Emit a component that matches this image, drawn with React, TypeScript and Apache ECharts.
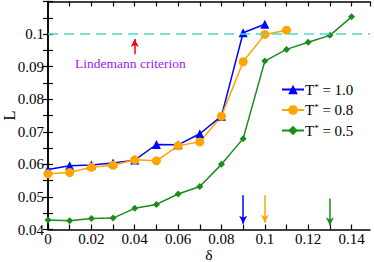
import React, { useEffect, useRef } from "react";
import * as echarts from "echarts";

const deltas = [0, 0.01, 0.02, 0.03, 0.04, 0.05, 0.06, 0.07, 0.08, 0.09, 0.1, 0.11, 0.12, 0.13, 0.14];
const seriesNames = ["T* = 1.0", "T* = 0.8", "T* = 0.5"];
const legendLabels = ["1.0", "0.8", "0.5"];
const valuesT10 = [0.0584, 0.0596, 0.0598, 0.0604, 0.0613, 0.0661, 0.066, 0.0694, 0.0748, 0.1004, 0.103];
const valuesT08 = [0.0571, 0.0575, 0.0591, 0.0597, 0.0614, 0.0611, 0.0657, 0.0669, 0.0748, 0.0915, 0.0999, 0.1012];
const valuesT05 = [0.0429, 0.0427, 0.0434, 0.0435, 0.0465, 0.0477, 0.0509, 0.0532, 0.06, 0.0679, 0.0917, 0.0953, 0.0975, 0.0996, 0.1053];
const colors = ["#0000ff", "#ffa500", "#1a8c1a"];
const criterionValue = 0.1;
const meltingDeltas = [0.09, 0.1, 0.13];
const xTickLabels = ["0", "0.02", "0.04", "0.06", "0.08", "0.1", "0.12", "0.14"];
const yTickLabels = ["0.04", "0.05", "0.06", "0.07", "0.08", "0.09", "0.1"];

const SERIF = "Times New Roman, Liberation Serif, DejaVu Serif, serif";

export default function App() {
  const ref = useRef<HTMLDivElement>(null);
  useEffect(() => {
    if (!ref.current) return;
    const chart = echarts.init(ref.current, undefined, { renderer: "svg" });
    const pair = (vals: number[]) => vals.map((v, i) => [deltas[i], v]);
    const xFmt = (v: number) => {
      const k = Math.round(v * 100);
      if (Math.abs(v * 100 - k) > 1e-6 || k % 2 !== 0) return "";
      return xTickLabels[k / 2] ?? "";
    };
    const yFmt = (v: number) => {
      const k = Math.round(v * 100);
      if (Math.abs(v * 100 - k) > 1e-6) return "";
      return yTickLabels[k - 4] ?? "";
    };
    const axisLine = { show: true, lineStyle: { color: "#000", width: 1.5 } };
    const tick = { show: true, inside: true, length: 5, lineStyle: { color: "#000", width: 1.2 } };
    const arrow = (x: number, y0: number, y1: number, color: string) => [
      { coord: [x, y0], lineStyle: { color, width: 1.5, type: "solid" } },
      { coord: [x, y1] },
    ];
    const markers = ["triangle", "circle", "diamond"];
    const sizes = [9, 9, 7];
    const valueSets = [valuesT10, valuesT08, valuesT05];
    const arrowTops = [0.0505, 0.0505, 0.0495];
    const arrowTips = [0.0418, 0.0421, 0.0412];
    const series: any[] = valueSets.map((vals, i) => ({
      type: "line",
      name: seriesNames[i],
      data: pair(vals),
      symbol: markers[i],
      symbolSize: sizes[i],
      showSymbol: true,
      lineStyle: { color: colors[i], width: 1.5 },
      itemStyle: { color: colors[i] },
      markLine: {
        silent: true,
        symbol: ["none", "arrow"],
        symbolSize: [6, 8],
        label: { show: false },
        data: [arrow(meltingDeltas[i], arrowTops[i], arrowTips[i], colors[i])],
      },
    }));
    series.push({
      type: "line",
      name: "criterion",
      data: [],
      markLine: {
        silent: true,
        symbol: "none",
        label: { show: false },
        lineStyle: { color: "#40e0d0", width: 1.5, type: [10, 6] },
        data: [{ yAxis: criterionValue }],
      },
    });
    series.push({
      type: "line",
      name: "arrowRed",
      data: [],
      markLine: {
        silent: true,
        symbol: ["none", "arrow"],
        symbolSize: [6, 8],
        label: { show: false },
        data: [arrow(0.04, 0.0938, 0.0985, "#ff0000")],
      },
      markPoint: {
        silent: true,
        symbol: "circle",
        symbolSize: 0,
        data: [
          {
            coord: [0.038, 0.0911],
            label: {
              show: true,
              formatter: "Lindemann criterion",
              color: "#a020f0",
              fontFamily: SERIF,
              fontSize: 13.5,
              position: "inside",
            },
          },
        ],
      },
    });

    chart.setOption({
      animation: false,
      textStyle: { fontFamily: SERIF },
      grid: { left: 48, right: 4, top: 1.5, bottom: 32.5, containLabel: false, outerBoundsMode: "none" },
      legend: {
        data: seriesNames,
        orient: "vertical",
        left: 276,
        top: 77,
        itemWidth: 22,
        itemHeight: 12,
        itemGap: 5.5,
        formatter: (name: string) => `T{sup|*} = ${legendLabels[seriesNames.indexOf(name)]}`,
        textStyle: {
          fontFamily: SERIF,
          fontSize: 15,
          color: "#000",
          padding: [0, 0, 0, -4],
          rich: {
            sup: { fontSize: 9, verticalAlign: "top", padding: [0, 0, 6, 0], fontFamily: SERIF, color: "#000" },
          },
        },
      },
      xAxis: [
        {
          type: "value",
          min: 0,
          max: 0.1485,
          interval: 0.01,
          position: "bottom",
          name: "δ",
          nameLocation: "middle",
          nameGap: 17.7,
          nameMoveOverlap: false,
          nameTextStyle: { fontFamily: SERIF, fontSize: 15.5, lineHeight: 14, color: "#000" },
          axisLine,
          axisTick: tick,
          splitLine: { show: false },
          axisLabel: { formatter: xFmt, fontFamily: SERIF, fontSize: 15, lineHeight: 13, color: "#000", margin: 3, showMaxLabel: false, hideOverlap: false },
        },
        {
          type: "value",
          min: 0,
          max: 0.1485,
          interval: 0.01,
          position: "top",
          axisLine,
          axisTick: tick,
          splitLine: { show: false },
          axisLabel: { show: false },
        },
      ],
      yAxis: [
        {
          type: "value",
          min: 0.04,
          max: 0.11,
          interval: 0.005,
          position: "left",
          name: "L",
          nameLocation: "middle",
          nameGap: 30.5,
          nameMoveOverlap: false,
          nameTextStyle: { fontFamily: SERIF, fontSize: 17, color: "#000" },
          axisLine,
          axisTick: tick,
          splitLine: { show: false },
          axisLabel: { formatter: yFmt, fontFamily: SERIF, fontSize: 15, color: "#000", margin: 4, hideOverlap: false },
        },
        {
          type: "value",
          min: 0.04,
          max: 0.11,
          interval: 0.005,
          position: "right",
          axisLine,
          axisTick: tick,
          splitLine: { show: false },
          axisLabel: { show: false },
        },
      ],
      series,
    });
    return () => chart.dispose();
  }, []);
  return <div ref={ref} style={{ width: 374, height: 262, position: "absolute", left: 0, top: 0 }} />;
}
